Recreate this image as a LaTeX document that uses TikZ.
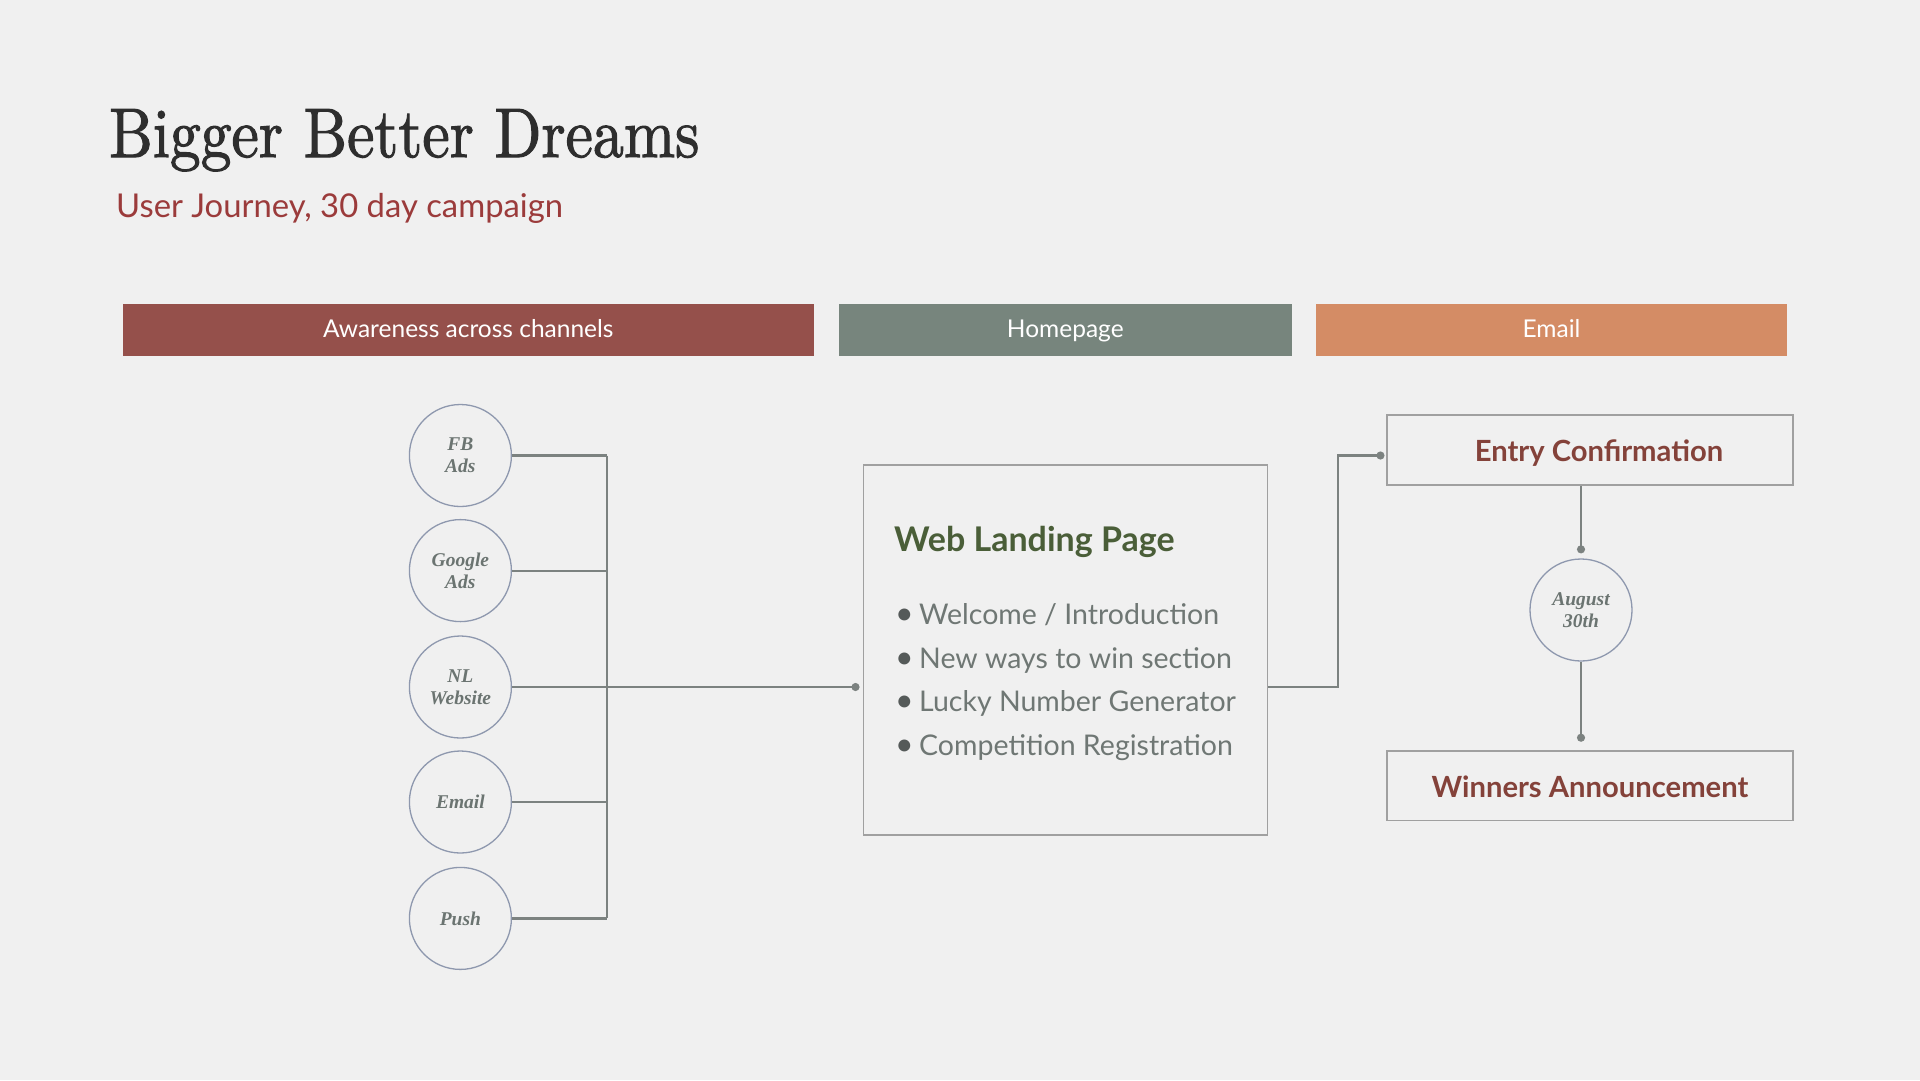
\documentclass[tikz,border=0pt]{standalone}
\usepackage{fontspec}
\usepackage{graphicx}
\usetikzlibrary{arrows.meta}
\newfontfamily\lato{Lato}
\newfontfamily\lser{Liberation Serif}
\newfontfamily\titlef{lmroman10-regular.otf}[FakeBold=1.6]
\definecolor{bg}{HTML}{F0F0F0}
\definecolor{titlec}{HTML}{2E2E2E}
\definecolor{subc}{HTML}{9B3B3B}
\definecolor{barA}{HTML}{95504B}
\definecolor{barB}{HTML}{77857D}
\definecolor{barC}{HTML}{D48C65}
\definecolor{circc}{HTML}{8E98AE}
\definecolor{chtext}{HTML}{6B7471}
\definecolor{linec}{HTML}{7C8280}
\definecolor{boxc}{HTML}{A0A0A0}
\definecolor{wlpc}{HTML}{4A5E38}
\definecolor{bulc}{HTML}{6F7774}
\definecolor{dotc}{HTML}{555A59}
\definecolor{redt}{HTML}{84423A}
\tikzset{
  bar/.style={fill=#1, minimum height=52.6, inner sep=0, text=white,
    text height=19, text depth=4,
    font=\lato\fontsize{24.5}{28}\selectfont},
  chan/.style={circle, draw=circc, line width=1.3, minimum size=102, inner sep=0,
    align=center, text=chtext, font=\lser\bfseries\itshape\fontsize{19.5}{22}\selectfont},
  frame/.style={draw=boxc, line width=1.8, inner sep=0},
  conn/.style={draw=linec, line width=2.2},
  dotend/.style={-{Circle[length=8pt,width=8pt]}, shorten >=#1},
  dotend/.default=3,
  bullet/.style={anchor=base west, inner sep=0, text=bulc,
    font=\lato\fontsize{28.5}{34}\selectfont},
  boxtitle/.style={anchor=base, inner sep=0, text=redt,
    font=\lato\bfseries\fontsize{29.2}{34}\selectfont}
}
\newcommand{\bitem}[1]{\makebox[24pt][l]{\textcolor{dotc}{\fontsize{32}{34}\selectfont•}}#1}
\begin{document}
\begin{tikzpicture}[x=1pt,y=-1pt]
\fill[bg] (0,0) rectangle (1920,1080);
\useasboundingbox (0,0) rectangle (1920,1080);

% title
\node[anchor=base west, inner sep=0, text=titlec, font=\titlef\fontsize{70}{72}\selectfont]
  (title) at (109,157) {\scalebox{0.88}[1]{Bigger Better Dreams}};
\node[anchor=base west, inner sep=0, text=subc, font=\lato\fontsize{32.8}{36}\selectfont]
  (sub) at (116,217) {User Journey, 30 day campaign};

% header bars
\node[bar=barA, minimum width=691.5] (b1) at (468.3,330) {Awareness across channels};
\node[bar=barB, minimum width=453] (b2) at (1065.3,330) {Homepage};
\node[bar=barC, minimum width=470.3] (b3) at (1551.5,330) {Email};

% channels
\node[chan] (fb) at (460.4,455.5) {FB\\Ads};
\node[chan] (gads) at (460.4,570.6) {Google\\Ads};
\node[chan] (nl) at (460.4,687) {NL\\Website};
\node[chan] (em) at (460.4,802) {Email};
\node[chan] (push) at (460.4,918.4) {Push};

% web landing page
\node[frame, minimum width=404, minimum height=370] (wlp) at (1065.4,650.2) {};
\node[anchor=base west, inner sep=0, text=wlpc, font=\lato\bfseries\fontsize{34}{36}\selectfont]
  (wlpt) at (894,551) {Web Landing Page};
\node[bullet] (i1) at (895,624.5) {\bitem{Welcome / Introduction}};
\node[bullet] (i2) at (895,668.6) {\bitem{New ways to win section}};
\node[bullet] (i3) at (895,711.5) {\bitem{Lucky Number Generator}};
\node[bullet] (i4) at (895,755.5) {\bitem{Competition Registration}};

% email side
\node[frame, minimum width=405.3, minimum height=70] (entry) at (1590,450) {};
\node[boxtitle] (entryt) at (1599,461.5) {Entry Confirmation};
\node[chan] (aug) at (1581,610) {August\\30th};
\node[frame, minimum width=405.3, minimum height=69.8] (win) at (1590,785.5) {};
\node[boxtitle] (wint) at (1590,797) {Winners Announcement};

% connectors
\coordinate (bus) at (607,0);
\foreach \n in {fb,gads,nl,em,push}
  \draw[conn] (\n.east) -- (\n.east -| bus);
\draw[conn] (fb.east -| bus) -- (push.east -| bus);
\draw[conn, dotend=3] (nl.east -| bus) -- (nl.east -| wlp.west);
\coordinate (j) at (1338,455.5);
\draw[conn, dotend=2] (nl.east -| wlp.east) -| (j) -- (j -| entry.west);
\draw[conn, dotend=5] (entry.south -| aug) -- (aug.north);
\draw[conn, dotend=8] (aug.south) -- (win.north -| aug);
\end{tikzpicture}
\end{document}
